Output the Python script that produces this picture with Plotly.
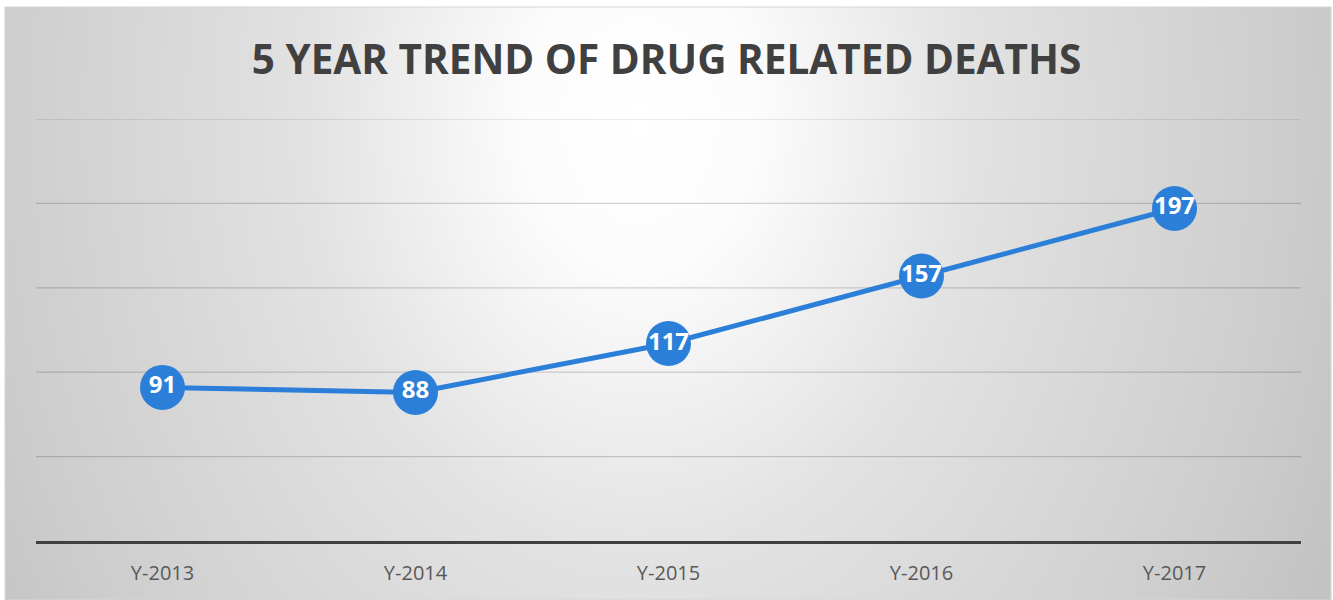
import base64
import plotly.graph_objects as go

years = ["Y-2013", "Y-2014", "Y-2015", "Y-2016", "Y-2017"]
deaths = [91, 88, 117, 157, 197]
labels = [str(v) for v in deaths]
grid_values = [50, 100, 150, 200, 250]

W, H = 1333, 600
L, R, T, B = 36, 32, 119, 59
pw, ph = W - L - R, H - T - B

svg = (
    f'<svg xmlns="http://www.w3.org/2000/svg" width="{W}" height="{H}" viewBox="0 0 {W} {H}" preserveAspectRatio="none">'
    '<defs><radialGradient id="g" gradientUnits="userSpaceOnUse" cx="640" cy="120" r="760" fx="640" fy="120" '
    'gradientTransform="translate(640,120) scale(1,1.316) translate(-640,-120)">'
    '<stop offset="0" stop-color="#FFFFFF"/>'
    '<stop offset="0.15" stop-color="#FCFCFC"/>'
    '<stop offset="0.44" stop-color="#E2E2E2"/>'
    '<stop offset="0.85" stop-color="#CDCDCD"/>'
    '<stop offset="1" stop-color="#C3C3C3"/>'
    '</radialGradient></defs>'
    f'<rect width="{W}" height="{H}" fill="#FFFFFF"/>'
    '<rect x="5" y="7" width="1326" height="593" fill="url(#g)" stroke="#D6D6D6" stroke-width="1"/></svg>'
)
src = "data:image/svg+xml;base64," + base64.b64encode(svg.encode()).decode()

fig = go.Figure()
fig.add_trace(go.Scatter(
    x=years, y=deaths, text=labels,
    mode="lines+markers+text",
    line=dict(color="#2B7FD8", width=5),
    marker=dict(size=45, color="#2B7FD8", line=dict(width=0)),
    textposition="middle center",
    textfont=dict(family="Open Sans", size=24, color="white", weight="bold"),
    cliponaxis=False,
    hoverinfo="skip",
))

fig.add_layout_image(dict(
    source=src, xref="paper", yref="paper",
    x=-L / pw, y=(H - B) / ph,
    sizex=W / pw, sizey=H / ph,
    xanchor="left", yanchor="top", sizing="stretch", layer="below",
))

for gv in grid_values:
    fig.add_shape(type="line", xref="paper", yref="y", x0=0, x1=1, y0=gv, y1=gv,
                  line=dict(color="rgba(0,0,0,0.17)", width=1.2), layer="below")

fig.update_layout(
    width=W, height=H,
    margin=dict(l=L, r=R, t=T, b=B, autoexpand=False),
    paper_bgcolor="white", plot_bgcolor="rgba(0,0,0,0)",
    showlegend=False,
    title=dict(text="<b>5 YEAR TREND OF DRUG RELATED DEATHS</b>", x=0.5, xanchor="center",
               y=1 - 60 / H, yanchor="middle",
               font=dict(family="Open Sans", size=40.5, color="#404040")),
    xaxis=dict(range=[-0.5, 4.5], showgrid=False, showline=True, linecolor="#404040", linewidth=3,
               ticks="outside", ticklen=0, tickfont=dict(family="Open Sans", size=20, color="#595959"),
               ticklabelstandoff=12, automargin=False, fixedrange=True),
    yaxis=dict(range=[0, 250], showgrid=False, showticklabels=False, zeroline=False,
               automargin=False, fixedrange=True),
)

fig.write_html("out.html", config={"displayModeBar": False},
               post_script="document.body.style.margin='0';")
